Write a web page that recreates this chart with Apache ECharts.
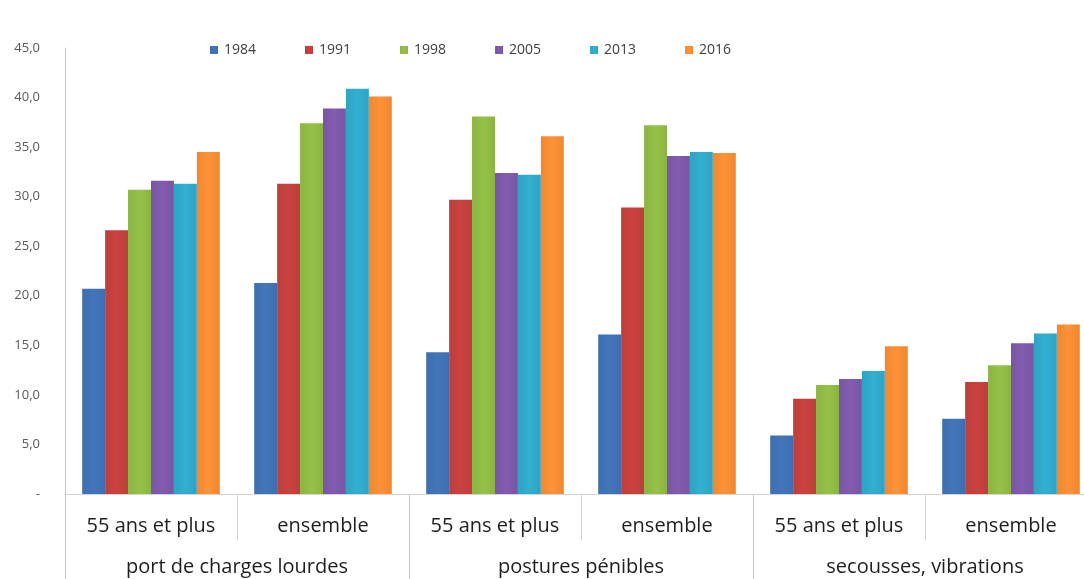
<!DOCTYPE html>
<html>
<head>
<meta charset="utf-8">
<script src="https://cdn.jsdelivr.net/npm/echarts@6/dist/echarts.min.js"></script>
<style>
  html, body { margin: 0; padding: 0; background: #ffffff; }
  #chart { width: 1084px; height: 579px; }
</style>
</head>
<body>
<div id="chart"></div>
<script>
// Sub-categories (first level) and their parent groups (second level)
const subCategories = ['55 ans et plus', 'ensemble', '55 ans et plus', 'ensemble', '55 ans et plus', 'ensemble'];
const groups = ['port de charges lourdes', 'postures pénibles', 'secousses, vibrations'];

// Survey years (one series each)
const years = ['1984', '1991', '1998', '2005', '2013', '2016'];

// Share of workers exposed (%), per sub-category, for each year
const v1984 = [20.7, 21.3, 14.3, 16.1, 5.9, 7.6];
const v1991 = [26.6, 31.3, 29.7, 28.9, 9.6, 11.3];
const v1998 = [30.7, 37.4, 38.1, 37.2, 11.0, 13.0];
const v2005 = [31.6, 38.9, 32.4, 34.1, 11.6, 15.2];
const v2013 = [31.3, 40.9, 32.2, 34.5, 12.4, 16.2];
const v2016 = [34.5, 40.1, 36.1, 34.4, 14.9, 17.1];

const seriesValues = [v1984, v1991, v1998, v2005, v2013, v2016];
const colors = ['#3e6eae', '#bc3e3c', '#8bb443', '#7956a3', '#2fa3c3', '#ef8832'];

const font = '"Open Sans", "Liberation Sans", sans-serif';

const chart = echarts.init(document.getElementById('chart'), null, { renderer: 'canvas' });

function shade(c) {
  return new echarts.graphic.LinearGradient(0, 0, 1, 0, [
    { offset: 0, color: c },
    { offset: 0.5, color: echarts.color.lift(c, -0.08) },
    { offset: 1, color: c }
  ]);
}

chart.setOption({
  backgroundColor: '#ffffff',
  animation: false,
  legend: {
    data: years,
    top: 38,
    left: 205,
    itemWidth: 8,
    itemHeight: 8,
    itemGap: 49,
    icon: 'rect',
    textStyle: { fontFamily: font, fontSize: 14, color: '#404040', padding: [0, 0, 0, 1] }
  },
  // the plot runs a little past the right edge of the canvas
  grid: { left: 65, width: 1032, top: 48, bottom: 85, containLabel: false, outerBoundsMode: 'none' },
  xAxis: [
    {
      type: 'category',
      data: subCategories,
      position: 'bottom',
      axisLine: { show: true, lineStyle: { color: '#d4d4d4', width: 1 } },
      axisTick: { show: true, length: 46, interval: 0, lineStyle: { color: '#d4d4d4' } },
      axisLabel: { interval: 0, margin: 22, fontFamily: font, fontSize: 20, color: '#1e1e1e' },
      splitLine: { show: false }
    },
    {
      type: 'category',
      data: groups,
      position: 'bottom',
      axisLine: { show: false },
      axisTick: { show: true, length: 85, interval: 0, lineStyle: { color: '#c8c8c8' } },
      axisLabel: { interval: 0, margin: 63, fontFamily: font, fontSize: 20, color: '#1e1e1e' },
      splitLine: { show: false }
    }
  ],
  yAxis: {
    type: 'value',
    min: 0,
    max: 45,
    interval: 5,
    axisLine: { show: true, lineStyle: { color: '#c8c8c8' } },
    axisTick: { show: false },
    splitLine: { show: false },
    axisLabel: {
      margin: 25,
      fontFamily: font,
      fontSize: 13,
      color: '#595959',
      formatter: v => v === 0 ? '-' : v.toFixed(1).replace('.', ',')
    }
  },
  series: years.map((y, i) => ({
    name: y,
    type: 'bar',
    xAxisIndex: 0,
    data: seriesValues[i],
    barGap: '0%',
    barCategoryGap: '20%',
    itemStyle: { color: shade(colors[i]) },
    emphasis: { disabled: true }
  })),
  color: colors
});
</script>
</body>
</html>
